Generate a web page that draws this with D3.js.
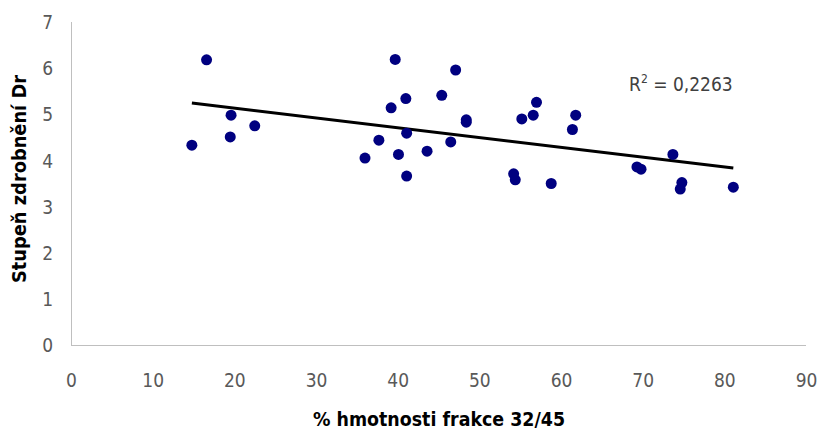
<!DOCTYPE html>
<html>
<head>
<meta charset="utf-8">
<script src="https://cdn.jsdelivr.net/npm/d3@7"></script>
<style>
  html, body { margin: 0; padding: 0; background: #fff; }
  svg { display: block; }
</style>
</head>
<body>
<svg id="chart" width="819" height="430"></svg>
<script>
// % hmotnosti frakce 32/45 (x) vs. stupeň zdrobnění Dr (y)
const fraction = [14.8, 16.6, 19.6, 19.5, 22.5, 39.7, 47.1, 41.0, 39.2, 45.4,
                  48.4, 48.4, 37.7, 41.1, 36.0, 40.1, 43.6, 46.5, 41.1, 55.2,
                  56.6, 57.0, 61.8, 61.4, 54.2, 54.4, 58.8, 73.7, 69.3, 69.8,
                  74.8, 74.6, 81.1];
const degree   = [4.33, 6.18, 4.98, 4.51, 4.75, 6.19, 5.96, 5.34, 5.14, 5.41,
                  4.88, 4.83, 4.44, 4.59, 4.05, 4.13, 4.20, 4.40, 3.66, 4.90,
                  4.98, 5.26, 4.98, 4.67, 3.71, 3.58, 3.50, 4.13, 3.86, 3.81,
                  3.52, 3.38, 3.42];
const xTicks = [0, 10, 20, 30, 40, 50, 60, 70, 80, 90];
const yTicks = [0, 1, 2, 3, 4, 5, 6, 7];
const rSquaredLabel = "0,2263";

const svg = d3.select("#chart");
const font = "'Liberation Sans Narrow', 'DejaVu Sans Condensed', sans-serif";

const x = d3.scaleLinear().domain([0, 90]).range([71, 806]);
const y = d3.scaleLinear().domain([0, 7]).range([345, 22]);

// axis lines
svg.append("line").attr("x1", x(0)).attr("x2", x(0)).attr("y1", y(7)).attr("y2", y(0))
  .attr("stroke", "#bfbfbf").attr("stroke-width", 1).attr("shape-rendering", "crispEdges");
svg.append("line").attr("x1", x(0)).attr("x2", x(90)).attr("y1", y(0)).attr("y2", y(0))
  .attr("stroke", "#bfbfbf").attr("stroke-width", 1).attr("shape-rendering", "crispEdges");

// tick labels
const xAxis = d3.axisBottom(x).tickValues(xTicks).tickSize(0).tickPadding(0).tickFormat(d3.format("d"));
const gx = svg.append("g").attr("transform", `translate(0,${y(0) + 42})`).call(xAxis);
gx.select(".domain").remove();
gx.selectAll("text").attr("dy", null).attr("y", 0)
  .attr("font-family", font).attr("font-size", 19).attr("fill", "#595959");

const yAxis = d3.axisLeft(y).tickValues(yTicks).tickSize(0).tickPadding(0).tickFormat(d3.format("d"));
const gy = svg.append("g").attr("transform", `translate(53,0)`).call(yAxis);
gy.select(".domain").remove();
gy.selectAll("text").attr("dy", "0.35em")
  .attr("font-family", font).attr("font-size", 19).attr("fill", "#595959");

// linear trend line (least squares)
const n = fraction.length;
const mx = d3.mean(fraction), my = d3.mean(degree);
let sxy = 0, sxx = 0;
for (let i = 0; i < n; i++) {
  sxy += (fraction[i] - mx) * (degree[i] - my);
  sxx += (fraction[i] - mx) ** 2;
}
const slope = sxy / sxx, intercept = my - slope * mx;
const [xmin, xmax] = d3.extent(fraction);
svg.append("line")
  .attr("x1", x(xmin)).attr("y1", y(intercept + slope * xmin))
  .attr("x2", x(xmax)).attr("y2", y(intercept + slope * xmax))
  .attr("stroke", "#000").attr("stroke-width", 3);

// points
svg.append("g").selectAll("circle").data(d3.range(n)).join("circle")
  .attr("cx", i => x(fraction[i])).attr("cy", i => y(degree[i]))
  .attr("r", 5.5).attr("fill", "#000080");

// R² label
const rl = svg.append("text").attr("x", 629).attr("y", 91)
  .attr("font-family", font).attr("font-size", 19).attr("fill", "#404040");
rl.append("tspan").text("R");
rl.append("tspan").attr("dy", -8).attr("font-size", 12).text("2");
rl.append("tspan").attr("dy", 8).text(" = " + rSquaredLabel);

// axis titles
svg.append("text").attr("x", 439).attr("y", 426).attr("text-anchor", "middle")
  .attr("font-family", font).attr("font-weight", "bold").attr("font-size", 20)
  .attr("fill", "#000")
  .attr("textLength", 252).attr("lengthAdjust", "spacingAndGlyphs")
  .text("% hmotnosti frakce 32/45");

svg.append("text").attr("transform", "translate(26,179) rotate(-90)").attr("text-anchor", "middle")
  .attr("font-family", font).attr("font-weight", "bold").attr("font-size", 20)
  .attr("fill", "#000")
  .attr("textLength", 208).attr("lengthAdjust", "spacingAndGlyphs")
  .text("Stupeň zdrobnění Dr");
</script>
</body>
</html>
